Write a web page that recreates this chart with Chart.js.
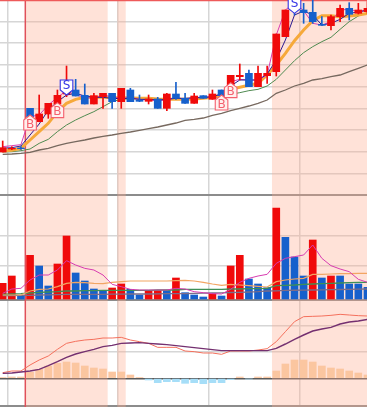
<!DOCTYPE html>
<html><head><meta charset="utf-8">
<style>html,body{margin:0;padding:0;background:#fff;overflow:hidden}canvas{display:block}</style>
<script src="https://cdn.jsdelivr.net/npm/chart.js@4/dist/chart.umd.min.js"></script>
</head><body><canvas id="c" width="367" height="407"></canvas>
<script>
const opens=[8.44,8.53,8.56,9.75,9.35,9.58,9.88,10.18,10.30,10.14,9.88,10.10,10.20,9.95,10.30,10.00,9.96,10.03,9.75,10.18,10.05,9.90,10.13,10.02,10.30,10.13,10.70,10.80,10.40,10.73,10.85,11.90,12.90,12.70,12.63,12.27,12.23,12.50,12.75,12.60,12.65];
const closes=[8.57,8.55,8.54,9.50,9.58,9.90,10.14,10.35,10.12,9.88,10.13,10.20,9.95,10.35,9.95,9.96,10.03,9.75,10.18,10.05,9.90,10.12,10.05,10.18,10.13,10.74,10.74,10.40,10.80,10.80,11.98,12.70,12.70,12.62,12.35,12.24,12.50,12.75,12.57,12.70,12.75];
const highs=[8.77,8.60,8.60,9.75,10.15,9.90,10.30,11.02,10.62,10.48,10.20,10.20,10.20,10.35,10.35,10.15,10.15,10.08,10.20,10.53,10.20,10.20,10.13,10.30,10.30,10.74,11.08,10.90,11.02,11.02,11.98,12.70,13.00,12.90,13.00,12.50,12.55,12.85,12.92,12.90,12.95];
const lows=[8.44,8.51,8.52,9.50,9.35,9.45,9.75,10.10,10.12,9.88,9.88,9.75,9.75,9.75,9.95,9.95,9.88,9.75,9.68,10.02,9.90,9.90,10.05,10.02,10.13,10.13,10.60,10.40,10.40,10.50,10.72,11.90,12.55,12.30,12.30,12.24,12.10,12.35,12.40,12.58,12.60];
const closeLine=[8.60,8.63,8.66,9.50,9.55,9.85,10.08,10.28,10.15,10.08,10.05,10.15,10.10,10.05,10.08,10.02,10.00,9.98,10.00,10.08,10.02,10.08,10.08,10.10,10.18,10.55,10.62,10.60,10.60,10.75,11.95,12.70,12.92,12.68,12.30,12.25,12.35,12.70,12.72,12.65,12.70];
const maFast=[8.55,8.57,8.62,8.95,9.28,9.70,9.95,10.15,10.20,10.12,10.08,10.08,10.05,10.04,10.05,10.02,10.02,10.00,10.02,10.05,10.05,10.07,10.07,10.10,10.18,10.42,10.60,10.60,10.60,10.78,11.20,11.80,12.55,12.67,12.55,12.25,12.30,12.42,12.60,12.64,12.70];
const maMid=[8.47,8.49,8.55,8.80,9.05,9.30,9.65,9.90,10.02,10.08,10.08,10.08,10.07,10.07,10.06,10.05,10.05,10.03,10.02,10.02,10.02,10.03,10.05,10.08,10.15,10.32,10.38,10.44,10.50,10.75,11.05,11.40,11.78,12.10,12.38,12.53,12.53,12.50,12.52,12.55,12.60];
const maSlow=[8.44,8.45,8.48,8.53,8.70,8.82,9.05,9.25,9.40,9.53,9.65,9.80,9.95,10.02,10.04,10.05,10.04,10.03,10.02,10.02,10.03,10.04,10.05,10.07,10.10,10.17,10.22,10.28,10.32,10.42,10.62,10.90,11.18,11.42,11.60,11.75,11.88,12.12,12.35,12.52,12.62];
const maLong=[8.37,8.38,8.40,8.43,8.50,8.55,8.63,8.70,8.75,8.80,8.86,8.91,8.95,9.00,9.04,9.09,9.14,9.19,9.25,9.31,9.39,9.42,9.46,9.54,9.60,9.68,9.75,9.82,9.90,10.00,10.20,10.30,10.42,10.50,10.60,10.64,10.70,10.75,10.85,10.95,11.05];
const volumes=[470,690,90,1310,990,390,1050,1890,780,540,300,250,330,450,290,120,250,250,250,630,190,120,60,160,90,990,1310,600,450,340,2730,1850,1260,690,1770,630,690,690,450,450,350];
const volumeUp=[1,1,0,1,0,0,1,1,0,0,0,0,1,1,0,0,1,1,0,1,0,0,0,1,0,1,1,0,0,0,1,0,0,0,1,0,1,0,0,0,0];
const volFast=[170,300,320,570,720,720,870,1150,1020,920,870,720,440,370,290,270,270,270,270,320,300,220,190,160,150,290,500,620,690,740,1070,1220,1270,1320,1620,1220,1000,900,820,590,500];
const volMid=[120,120,120,240,290,300,370,470,500,490,470,460,500,520,540,540,540,540,540,550,560,540,500,450,410,440,420,400,380,360,520,570,600,620,740,740,750,760,760,770,770];
const volSlow=[140,150,160,180,200,210,220,240,240,250,250,260,260,260,260,260,260,270,270,270,290,290,290,290,290,300,300,310,310,320,400,410,420,440,450,460,470,480,490,500,500];
const volLong=[100,100,110,110,120,125,130,140,140,140,140,140,145,145,150,150,150,155,160,160,160,170,175,180,185,195,200,210,220,240,245,260,262,265,270,275,280,285,290,295,300];
const macdHist=[.002,.004,.004,.018,.027,.037,.045,.049,.046,.037,.031,.028,.019,.019,.010,.002,-.005,-.013,-.010,-.010,-.015,-.013,-.016,-.013,-.013,-.004,.004,-.002,.004,.004,.022,.043,.055,.055,.049,.037,.031,.028,.022,.016,.010];
const dif=[.017,.022,.022,.040,.055,.067,.087,.105,.111,.115,.117,.121,.121,.123,.115,.110,.105,.093,.093,.093,.082,.080,.076,.076,.072,.082,.082,.082,.085,.089,.110,.140,.170,.185,.186,.187,.189,.192,.190,.188,.187];
const dea=[.015,.016,.019,.022,.027,.038,.050,.063,.073,.080,.087,.095,.099,.105,.106,.107,.105,.103,.101,.098,.095,.092,.089,.086,.083,.083,.083,.083,.083,.083,.090,.103,.117,.130,.142,.148,.153,.163,.169,.172,.177];
const buyIdx=[3,6,24,25], buyTip=[9.55,9.92,10.15,10.52], buyText='B';
const sellIdx=[7,32], sellTip=[10.15,12.60], sellText='S';
const shadeRanges=[[2.5,11.51],[12.57,13.49],[29.53,40]];
const cursorIdx=2.48;
const priceGrid=[12.35,11.73,11.07,10.40,9.75,9.10,8.45,7.80];
const priceFloor=7.15;
const volumeGrid=[1899,990];
const volumeFloor=-39;
const macdGrid=[.159,.081];
const macdFloor=-.082;
const timeGrid=[.526,12.57,22.55,32.57];

const RED='#f00a0a',BLUE='#1660cc';
const idx=opens.map((_,i)=>i);
const xy=a=>a.map((v,i)=>({x:i,y:v}));
const isUp=i=>closes[i]>=opens[i];
function lineDs(a,axis,color,w,order){return{type:'line',data:xy(a),yAxisID:axis,borderColor:color,borderWidth:w,pointRadius:0,tension:0,order,fill:false};}
function barDs(d,axis,color,t,order){return{type:'bar',data:d,yAxisID:axis,backgroundColor:color,barThickness:t,grouped:false,order};}

const datasets=[
 lineDs(maLong,'yP','#77695f',1.3,30),
 lineDs(maSlow,'yP','#4f8a50',1,29),
 lineDs(maMid,'yP','#f6a93a',3,28),
 lineDs(closeLine,'yP','#d83cb0',1,27),
 lineDs(maFast,'yP','#2c1a90',1,26),
 barDs(idx.map(i=>({x:i,y:[lows[i],highs[i]]})),'yP',idx.map(i=>isUp(i)?RED:BLUE),1,20),
 barDs(idx.map(i=>({x:i,y:[opens[i],closes[i]]})),'yP',idx.map(i=>isUp(i)?RED:BLUE),7,19),
 barDs(idx.map(i=>({x:i,y:[0,volumes[i]]})),'yV',idx.map(i=>volumeUp[i]?RED:BLUE),7,15),
 lineDs(volLong,'yV','#7c6c88',1.4,10),
 lineDs(volSlow,'yV','#3f8f55',1.4,9),
 lineDs(volMid,'yV','#f2a563',1.2,8),
 lineDs(volFast,'yV','#d83cb0',1,7),
 barDs(idx.map(i=>({x:i,y:[0,macdHist[i]]})),'yM',macdHist.map(v=>v>=0?'#fbc6a0':'#a6def8'),7,6),
 lineDs(dif,'yM','#f4705c',1,5),
 lineDs(dea,'yM','#743070',1.4,4)
];

function gridScale(min,max,grid,floor,floorColor,strong){
 return{position:'left',min,max,display:true,border:{display:false},
  ticks:{display:false,autoSkip:false},
  grid:{drawTicks:false,lineWidth:c=>c.tick&&c.tick.value===floor?2:1.5,color:c=>c.tick&&(c.tick.value===floor)?floorColor:(c.tick&&c.tick.value===strong?'#5a5a5a':'#d6d6d6')},
  afterBuildTicks(s){s.ticks=grid.concat([floor]).map(v=>({value:v}));},
  afterFit(s){s.width=0;}};
}
const shadePlugin={id:'shade',beforeDatasetsDraw(ch){
 const{ctx,chartArea:a,scales:{x}}=ch;ctx.save();ctx.fillStyle='rgba(255,170,140,0.34)';
 shadeRanges.forEach(r=>{const l=x.getPixelForValue(r[0]),h=x.getPixelForValue(r[1]);ctx.fillRect(l,a.top,h-l,a.bottom-a.top);});
 ctx.strokeStyle='#e0505a';ctx.lineWidth=1.5;const cx=x.getPixelForValue(cursorIdx);
 ctx.beginPath();ctx.moveTo(cx,a.top);ctx.lineTo(cx,a.bottom);ctx.stroke();
 ctx.strokeStyle='#ee5a5a';ctx.lineWidth=1.5;ctx.beginPath();ctx.moveTo(a.left,.5);ctx.lineTo(a.right,.5);ctx.stroke();
 ctx.restore();}};
function marker(ctx,x,y,up,text,stroke,fill){
 const w=6.3,h=15,n=5;ctx.beginPath();
 if(up){ctx.moveTo(x,y);ctx.lineTo(x+w,y+n);ctx.lineTo(x+w,y+h);ctx.lineTo(x-w,y+h);ctx.lineTo(x-w,y+n);}
 else{ctx.moveTo(x,y);ctx.lineTo(x+w,y-n);ctx.lineTo(x+w,y-h);ctx.lineTo(x-w,y-h);ctx.lineTo(x-w,y-n);}
 ctx.closePath();ctx.fillStyle=fill;ctx.fill();ctx.strokeStyle=stroke;ctx.lineWidth=1.1;ctx.stroke();
 ctx.fillStyle=stroke;ctx.font='12px "DejaVu Sans"';ctx.textAlign='center';ctx.textBaseline='middle';
 ctx.fillText(text,x,up?y+h-5.5:y-h+5.5);
}
const signalPlugin={id:'signals',afterDatasetsDraw(ch){
 const{ctx,scales:{x,yP}}=ch;ctx.save();
 buyIdx.forEach((b,k)=>marker(ctx,x.getPixelForValue(b),yP.getPixelForValue(buyTip[k]),true,buyText,'#f4606e','#fff0ee'));
 sellIdx.forEach((s,k)=>marker(ctx,x.getPixelForValue(s),yP.getPixelForValue(sellTip[k]),false,sellText,'#3434e6','#ffffff'));
 ctx.restore();}};

new Chart(document.getElementById('c'),{
 type:'bar',data:{datasets},plugins:[shadePlugin,signalPlugin],
 options:{responsive:false,animation:false,events:[],layout:{padding:0},
  plugins:{legend:{display:false},tooltip:{enabled:false},title:{display:false}},
  scales:{
   x:{type:'linear',position:'bottom',offset:false,min:-.296,max:39.95,display:true,border:{display:false},
      ticks:{display:false,autoSkip:false},
      grid:{offset:false,drawTicks:false,color:'#d6d6d6',lineWidth:1.5},
      afterBuildTicks(s){s.ticks=timeGrid.map(v=>({value:v}));},
      afterFit(s){s.height=0;}},
   yP:gridScale(.79,13,priceGrid,priceFloor,'#8c8c8c'),
   yV:gridScale(-3240,8970,volumeGrid,volumeFloor,'#8c8c8c'),
   yM:gridScale(-.086,1.135,macdGrid.concat([0]),macdFloor,'#8c8c8c',0)
  }}});
</script></body></html>
